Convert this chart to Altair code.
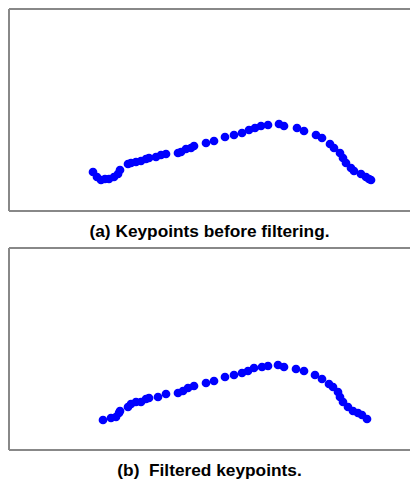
import altair as alt
import pandas as pd

# Panel (a): keypoints before filtering (image-pixel coordinates)
a_x = [92, 96, 100, 104, 108, 113, 117, 119, 127, 130, 135, 140, 145, 148, 155, 160, 165,
       177, 180, 185, 190, 193, 205, 213, 224, 233, 241, 248, 254, 260, 267, 278, 283,
       296, 303, 315, 321, 329, 333, 339, 342, 345, 350, 353, 360, 365, 368, 370]
a_y = [171, 176, 179, 178, 178, 176, 173, 169, 163, 162, 161, 160, 158, 157, 156, 154, 153,
       152, 151, 148, 147, 145, 142, 140, 136, 134, 132, 129, 127, 125, 124, 123, 125,
       127, 130, 134, 137, 143, 147, 152, 157, 162, 167, 170, 173, 176, 178, 179]

# Panel (b): filtered keypoints
b_x = [102, 110, 115, 118, 119, 127, 130, 135, 140, 145, 148, 157, 165, 177, 182, 187, 193,
       205, 213, 224, 233, 241, 247, 253, 261, 267, 277, 283, 295, 303,
       314, 321, 328, 332, 337, 339, 342, 347, 352, 357, 361, 366]
b_y = [420, 418, 417, 413, 411, 407, 404, 402, 402, 399, 398, 397, 394, 393, 391, 388, 386,
       383, 381, 377, 375, 373, 371, 368, 367, 366, 365, 367, 369, 371,
       375, 379, 384, 387, 392, 397, 402, 407, 411, 413, 415, 419]

captions = ["(a) Keypoints before filtering.", "(b)\u00a0 Filtered keypoints."]

W = 401
H = 202
BORDER = "#888888"


def panel(xs, ys, ydom, caption):
    df = pd.DataFrame({"x": xs, "y": ys})
    pts = alt.Chart(df).mark_circle(size=76, color="#0000ff", opacity=1).encode(
        x=alt.X("x:Q", scale=alt.Scale(domain=[8, 8 + W], nice=False, zero=False), axis=None),
        y=alt.Y("y:Q", scale=alt.Scale(domain=ydom, nice=False, zero=False, reverse=True), axis=None),
    )
    top = alt.Chart(df).mark_rule(color=BORDER, strokeWidth=2).encode(
        x=alt.value(0), x2=alt.value(W), y=alt.value(0))
    bottom = alt.Chart(df).mark_rule(color=BORDER, strokeWidth=2).encode(
        x=alt.value(0), x2=alt.value(W), y=alt.value(H))
    left = alt.Chart(df).mark_rule(color=BORDER, strokeWidth=2).encode(
        x=alt.value(0), y=alt.value(0), y2=alt.value(H))
    return alt.layer(top, bottom, left, pts).properties(
        width=W, height=H,
        title=alt.TitleParams(caption, orient="bottom", anchor="middle", offset=11,
                              font="Liberation Sans", fontSize=17.3, fontWeight="bold", color="black"),
    )


chart = alt.vconcat(
    panel(a_x, a_y, [8, 8 + H], captions[0]),
    panel(b_x, b_y, [248, 248 + H], captions[1]),
    spacing=6,
).properties(padding=0).configure_view(stroke=None)

chart.save("out.html", embed_options={"renderer": "svg", "actions": False})
